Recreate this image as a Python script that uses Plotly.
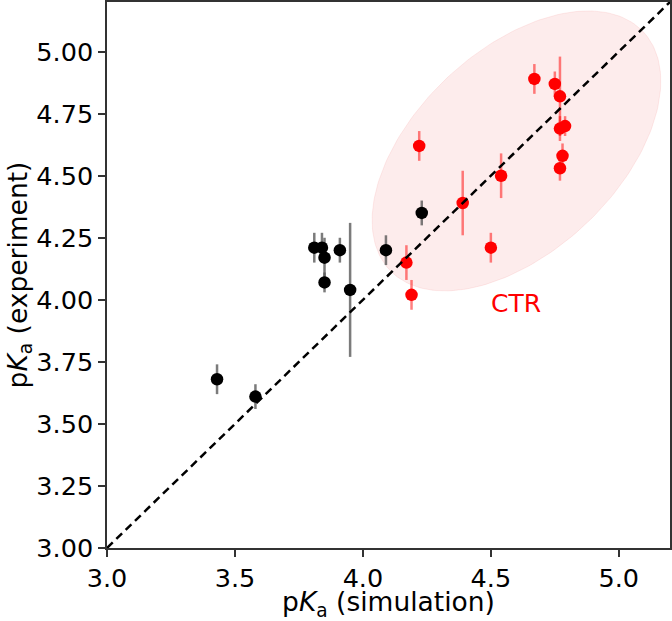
import numpy as np
import plotly.graph_objects as go

# black points (non-CTR)
black_sim = [3.43, 3.58, 3.81, 3.84, 3.85, 3.85, 3.91, 3.95, 4.09, 4.23]
black_exp = [3.68, 3.61, 4.21, 4.21, 4.17, 4.07, 4.20, 4.04, 4.20, 4.35]
black_err = [0.06, 0.05, 0.06, 0.06, 0.08, 0.04, 0.05, 0.27, 0.06, 0.05]

# red points (CTR)
red_sim = [4.17, 4.19, 4.22, 4.39, 4.50, 4.54, 4.67, 4.75, 4.77, 4.77, 4.79, 4.78, 4.77]
red_exp = [4.15, 4.02, 4.62, 4.39, 4.21, 4.50, 4.89, 4.87, 4.82, 4.69, 4.70, 4.58, 4.53]
red_err = [0.07, 0.06, 0.06, 0.13, 0.06, 0.09, 0.06, 0.05, 0.16, 0.05, 0.04, 0.05, 0.05]

diag = [3.0, 5.2]

# CTR ellipse: centre, semi-axes, angle (deg)
ell_c = (4.6, 4.6)
ell_a, ell_b, ell_ang = 0.69, 0.40, 45

t = np.linspace(0, 2 * np.pi, 200)
th = np.deg2rad(ell_ang)
ex = ell_c[0] + ell_a * np.cos(t) * np.cos(th) - ell_b * np.sin(t) * np.sin(th)
ey = ell_c[1] + ell_a * np.cos(t) * np.sin(th) + ell_b * np.sin(t) * np.cos(th)

font = "DejaVu Sans"

fig = go.Figure()

fig.add_trace(go.Scatter(x=ex, y=ey, mode="lines", fill="toself",
                         fillcolor="rgba(240,128,128,0.15)",
                         line=dict(color="rgba(240,128,128,0.15)", width=1),
                         hoverinfo="skip"))

fig.add_trace(go.Scatter(x=black_sim, y=black_exp, mode="markers",
                         marker=dict(color="black", size=12.5),
                         error_y=dict(type="data", array=black_err, color="rgba(90,90,90,0.8)",
                                      thickness=2.5, width=0)))

fig.add_trace(go.Scatter(x=red_sim, y=red_exp, mode="markers",
                         marker=dict(color="red", size=12.5),
                         error_y=dict(type="data", array=red_err, color="rgba(255,0,0,0.5)",
                                      thickness=2.5, width=0)))

fig.add_trace(go.Scatter(x=diag, y=diag, mode="lines",
                         line=dict(color="black", width=2.5, dash="8px,5px")))

fig.add_annotation(x=4.60, y=3.985, text="CTR", showarrow=False,
                   font=dict(color="red", size=25, family=font))

axis_common = dict(showline=True, mirror=True, linecolor="#333", linewidth=1.5,
                   ticks="outside", ticklen=7, tickwidth=1.5, tickcolor="#333",
                   showgrid=False, zeroline=False, automargin=False,
                   tickfont=dict(size=25.5, family=font, color="black"))

fig.update_layout(
    width=672, height=621,
    margin=dict(l=107, r=2, t=2, b=73),
    plot_bgcolor="white", paper_bgcolor="white",
    showlegend=False,
    xaxis=dict(range=[3.0, 5.2], tickvals=[3.0, 3.5, 4.0, 4.5, 5.0], tickformat=".1f",
               title=dict(text="p<i>K</i><sub>a</sub> (simulation)", standoff=3,
                          font=dict(size=26.5, family=font, color="black")),
               **axis_common),
    yaxis=dict(range=[3.0, 5.2], tickvals=[3.0, 3.25, 3.5, 3.75, 4.0, 4.25, 4.5, 4.75, 5.0],
               tickformat=".2f",
               title=dict(text="p<i>K</i><sub>a</sub> (experiment)", standoff=0,
                          font=dict(size=26.5, family=font, color="black")),
               **axis_common),
)

# page body has an 8px default margin; drop it so the figure sits at the corner
fig.write_html("out.html", config={"displayModeBar": False},
               post_script="document.body.style.margin='0';")
